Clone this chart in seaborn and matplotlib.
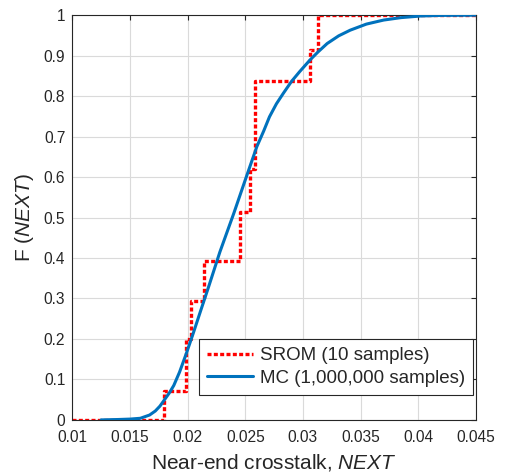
import numpy as np
import pandas as pd
import matplotlib
matplotlib.use("Agg")
import matplotlib.pyplot as plt
from matplotlib.ticker import FuncFormatter
import seaborn as sns

# SROM samples (location, probability)
srom_x = [0.01795, 0.01986, 0.02027, 0.02140, 0.02454, 0.02540, 0.02584, 0.03060, 0.03128]
srom_p = [0.072, 0.127, 0.095, 0.099, 0.120, 0.108, 0.216, 0.078, 0.085]

mc_x = [0.0125, 0.0140, 0.0150, 0.0159, 0.0167, 0.0172, 0.0176, 0.0180, 0.0184, 0.0188,
        0.0193, 0.0199, 0.0205, 0.0211, 0.0218, 0.0228, 0.0240, 0.0250, 0.0260, 0.0266,
        0.0271, 0.0277, 0.0283, 0.0290, 0.0297, 0.0306, 0.0313, 0.0321, 0.0331, 0.0341,
        0.0355, 0.0370, 0.0385, 0.0402, 0.0420, 0.0450]
mc_y = [0.000, 0.001, 0.002, 0.004, 0.012, 0.022, 0.034, 0.050, 0.066, 0.085,
        0.118, 0.165, 0.215, 0.267, 0.327, 0.415, 0.510, 0.593, 0.675, 0.714,
        0.749, 0.781, 0.807, 0.836, 0.860, 0.889, 0.909, 0.930, 0.949, 0.963,
        0.978, 0.988, 0.994, 0.998, 0.9995, 1.0]

x_ticks = [0.01, 0.015, 0.02, 0.025, 0.03, 0.035, 0.04, 0.045]
y_ticks = [0, 0.1, 0.2, 0.3, 0.4, 0.5, 0.6, 0.7, 0.8, 0.9, 1]

sns.set_style("white")
plt.rcParams['font.family'] = ['Liberation Sans', 'DejaVu Sans']
plt.rcParams['mathtext.fontset'] = 'custom'
plt.rcParams['mathtext.rm'] = 'Liberation Sans'
plt.rcParams['mathtext.it'] = 'Liberation Sans:italic'

dark = '#262626'

# step cdf for the srom
cdf = np.cumsum(srom_p)
cdf = cdf / cdf[-1]
srom_df = pd.DataFrame({'x': [0.01] + srom_x + [0.045],
                        'F': [0.0] + list(cdf) + [1.0]})
mc_df = pd.DataFrame({'x': mc_x, 'F': mc_y})

fig = plt.figure(figsize=(5.09, 4.75), dpi=100)
ax = fig.add_axes([0.142, 0.116, 0.793, 0.852])

sns.lineplot(data=srom_df, x='x', y='F', ax=ax, color='#ff0000', lw=2.4,
             drawstyle='steps-post', estimator=None, sort=False,
             label='SROM (10 samples)', zorder=2)
ax.lines[-1].set_dashes((1.2, 0.7))
sns.lineplot(data=mc_df, x='x', y='F', ax=ax, color='#0072bd', lw=2.2,
             estimator=None, sort=False, label='MC (1,000,000 samples)', zorder=3)

ax.set_xlim(0.01, 0.045)
ax.set_ylim(0, 1)
ax.set_xticks(x_ticks)
ax.set_yticks(y_ticks)
fmt = FuncFormatter(lambda v, p: '%g' % round(v, 4))
ax.xaxis.set_major_formatter(fmt)
ax.yaxis.set_major_formatter(fmt)
ax.grid(True, color='#dadada', lw=0.8)
ax.set_axisbelow(True)
ax.tick_params(direction='in', length=3.5, width=0.8, top=True, right=True,
               labelsize=11.2, colors=dark)
ax.tick_params(axis='x', pad=7)
ax.tick_params(axis='y', pad=5)
for s in ax.spines.values():
    s.set_color(dark)
    s.set_linewidth(0.8)

ax.set_xlabel(r'Near-end crosstalk, $\mathit{NEXT}$', fontsize=15, color=dark, labelpad=5)
ax.set_ylabel(r'F ($\mathit{NEXT}$)', fontsize=15, color=dark, labelpad=6)

leg = ax.legend(loc='lower right', bbox_to_anchor=(0.992, 0.062), borderaxespad=0,
                fontsize=13.5, frameon=True, fancybox=False, framealpha=1,
                edgecolor=dark, handlelength=2.45, handletextpad=0.37,
                labelspacing=0.3, borderpad=0.42)
leg.get_frame().set_linewidth(0.8)

fig.savefig('out.png', dpi=100)
